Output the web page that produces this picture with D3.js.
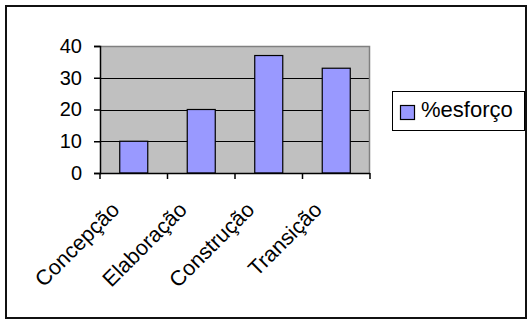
<!DOCTYPE html>
<html>
<head>
<meta charset="utf-8">
<script src="https://cdn.jsdelivr.net/npm/d3@7/dist/d3.min.js"></script>
<style>
  html, body { margin: 0; padding: 0; background: #fff; }
  svg { display: block; }
  text { font-family: "Liberation Sans", Arial, sans-serif; fill: #000; }
</style>
</head>
<body>
<svg id="chart" width="528" height="320"></svg>
<script>
// Effort share per project phase
const categories = ["Concepção", "Elaboração", "Construção", "Transição"];
const esforco = [10, 20, 37, 33];
const yTicks = [0, 10, 20, 30, 40];
const seriesName = "%esforço";

const svg = d3.select("#chart");

// Outer frame
svg.append("rect")
  .attr("x", 6).attr("y", 6).attr("width", 520).attr("height", 312)
  .attr("fill", "#fff").attr("stroke", "#111").attr("stroke-width", 2);

const plot = { left: 100, right: 370, top: 46, bottom: 173 };

const x = d3.scaleBand()
  .domain(categories)
  .range([plot.left, plot.right])
  .paddingInner(0.585)
  .paddingOuter(0.2925);

const y = d3.scaleLinear()
  .domain([0, 40])
  .range([plot.bottom, plot.top]);

// Plot area background
svg.append("rect")
  .attr("x", plot.left).attr("y", plot.top)
  .attr("width", plot.right - plot.left).attr("height", plot.bottom - plot.top)
  .attr("fill", "#c0c0c0");

// Horizontal gridlines
svg.append("g")
  .selectAll("line")
  .data(yTicks.filter(d => d > 0 && d < 40))
  .join("line")
  .attr("x1", plot.left).attr("x2", plot.right)
  .attr("y1", d => Math.round(y(d)) + 0.5).attr("y2", d => Math.round(y(d)) + 0.5)
  .attr("stroke", "#000").attr("stroke-width", 1);

// Plot area border (top and right)
svg.append("path")
  .attr("d", `M${plot.left},${plot.top + 0.5}H${plot.right - 0.5}V${plot.bottom}`)
  .attr("fill", "none").attr("stroke", "#808080").attr("stroke-width", 1.5);

// Bars
svg.append("g")
  .selectAll("rect")
  .data(categories.map((c, i) => ({ c, v: esforco[i] })))
  .join("rect")
  .attr("x", d => x(d.c))
  .attr("y", d => y(d.v))
  .attr("width", x.bandwidth())
  .attr("height", d => y(0) - y(d.v))
  .attr("fill", "#9999ff")
  .attr("stroke", "#000")
  .attr("stroke-width", 1.2);

// Y axis
const yAxis = svg.append("g")
  .attr("transform", `translate(${plot.left},0)`)
  .call(d3.axisLeft(y).tickValues(yTicks).tickSize(6).tickPadding(12).tickFormat(d3.format("d")));
yAxis.select(".domain").attr("stroke", "#000").attr("stroke-width", 1.5);
yAxis.selectAll(".tick line").attr("stroke", "#000").attr("stroke-width", 1.5);
yAxis.selectAll(".tick text")
  .attr("font-size", 20)
  .attr("font-family", "Liberation Sans, Arial, sans-serif")
  .attr("fill", "#000");

// X axis: category boundaries get tick marks
const boundaries = categories.map(c => x(c) - x.step() * x.paddingInner() / 2);
boundaries[0] = plot.left;
boundaries.push(plot.right);
svg.append("line")
  .attr("x1", plot.left).attr("x2", plot.right)
  .attr("y1", plot.bottom + 0.5).attr("y2", plot.bottom + 0.5)
  .attr("stroke", "#000").attr("stroke-width", 1.5);
svg.append("g")
  .selectAll("line")
  .data(boundaries)
  .join("line")
  .attr("x1", d => d).attr("x2", d => d)
  .attr("y1", plot.bottom).attr("y2", plot.bottom + 6)
  .attr("stroke", "#000").attr("stroke-width", 1.5);

// Rotated category labels
svg.append("g")
  .selectAll("text")
  .data(categories)
  .join("text")
  .attr("transform", d => `translate(${x(d) + x.bandwidth() / 2 - 13},211) rotate(-45)`)
  .attr("text-anchor", "end")
  .attr("font-size", 21.5)
  .text(d => d);

// Legend
const legend = svg.append("g");
legend.append("rect")
  .attr("x", 392.5).attr("y", 91.5).attr("width", 132).attr("height", 39)
  .attr("fill", "#fff").attr("stroke", "#000").attr("stroke-width", 1);
legend.append("rect")
  .attr("x", 400.5).attr("y", 105.5).attr("width", 14).attr("height", 14)
  .attr("fill", "#9999ff").attr("stroke", "#000").attr("stroke-width", 1.2);
legend.append("text")
  .attr("x", 421).attr("y", 117)
  .attr("font-size", 22)
  .text(seriesName);
</script>
</body>
</html>
